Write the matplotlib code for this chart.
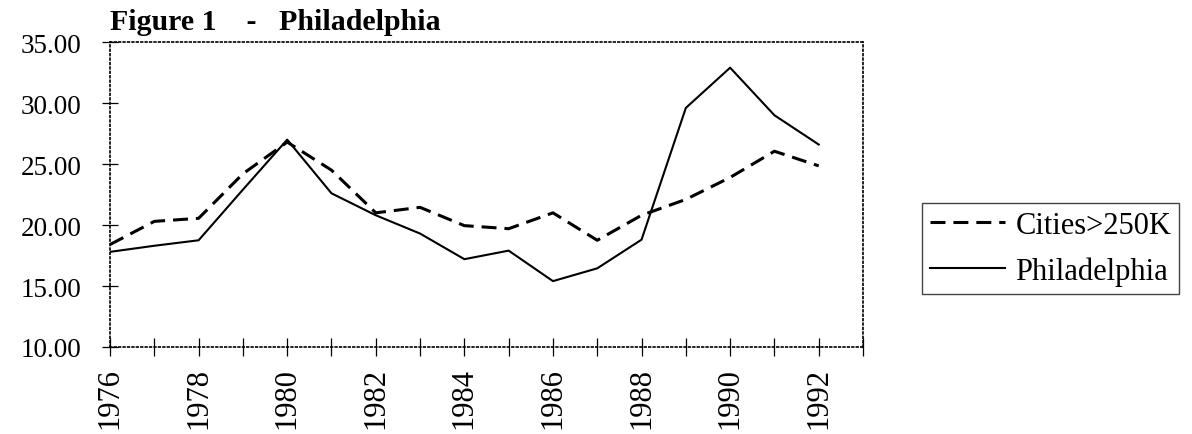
import matplotlib.pyplot as plt

plt.rcParams['font.family'] = ['Liberation Serif', 'DejaVu Serif']

years = list(range(1976, 1993))
cities = [18.4, 20.3, 20.55, 24.2, 26.8, 24.5, 21.0, 21.45, 19.95,
          19.7, 21.0, 18.75, 20.8, 22.1, 23.9, 26.05, 24.85]
philly = [17.8, 18.3, 18.75, 22.9, 27.0, 22.6, 20.8, 19.3, 17.2,
          17.9, 15.4, 16.45, 18.8, 29.6, 32.9, 29.0, 26.6]
y_ticks = [10, 15, 20, 25, 30, 35]
x_label_years = list(range(1976, 1993, 2))


def plot_figure():
    fig = plt.figure(figsize=(11.92, 4.35), dpi=100)
    ax = fig.add_axes([0.0923, 0.2, 0.6317, 0.701])

    ax.plot(years, cities, color='black', linewidth=2.2, dashes=(4.9, 2.6),
            label='Cities>250K')
    ax.plot(years, philly, color='black', linewidth=1.5, label='Philadelphia')

    ax.set_xlim(1976, 1993)
    ax.set_ylim(10, 35)

    # every year gets a tick, only even years get a label
    ax.set_xticks(range(1976, 1994))
    ax.set_xticklabels([str(y) if y in x_label_years else '' for y in range(1976, 1994)],
                       rotation=90, fontsize=22)
    ax.set_yticks(y_ticks)
    ax.set_yticklabels([f'{v:.2f}' for v in y_ticks], fontsize=19.5)
    ax.tick_params(axis='x', direction='inout', length=13, width=0.9, pad=8)
    ax.tick_params(axis='y', direction='inout', length=11, width=0.9, pad=15)

    for side in ['top', 'right', 'bottom', 'left']:
        ax.spines[side].set_linestyle(':')
        ax.spines[side].set_linewidth(1.2)

    fig.text(0.0923, 0.931, 'Figure 1    -   Philadelphia', fontsize=21.5,
             fontweight='bold', ha='left', va='baseline')

    leg = fig.legend(loc='upper left', bbox_to_anchor=(0.7735, 0.531),
                     fontsize=22, handlelength=2.45, handletextpad=0.36,
                     borderpad=0.25, labelspacing=0.55, fancybox=False,
                     framealpha=1, borderaxespad=0)
    leg.get_frame().set_edgecolor('#444444')
    leg.get_frame().set_linewidth(1.0)

    fig.savefig('out.png', dpi=100)


plot_figure()
